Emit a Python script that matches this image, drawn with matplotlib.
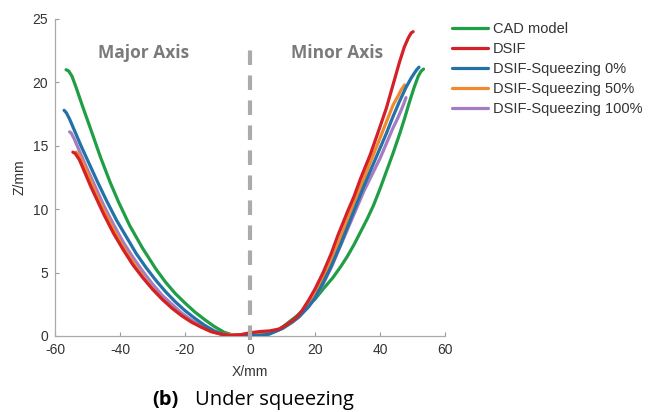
import numpy as np
import matplotlib
matplotlib.use("Agg")
import matplotlib.pyplot as plt

plt.rcParams['font.family'] = ['Liberation Sans', 'DejaVu Sans']
plt.rcParams['axes.unicode_minus'] = False

# Profiles (X/mm, Z/mm)
cad_x = [-56.6, -55.8, -54.8, -53.5, -51.5, -49, -46, -43, -40.5, -37, -33, -29, -26, -23, -20, -17, -14, -11, -8, -5, -2, 0,
         2, 5, 8, 10, 12, 15, 18, 20, 22.5, 25.5, 28, 30, 32, 34, 36, 38, 40, 42, 44, 46, 47.5, 49, 50.5, 51.8, 52.7, 53.4]
cad_z = [21.0, 20.9, 20.5, 19.6, 18.1, 16.3, 14.1, 12.1, 10.6, 8.7, 6.9, 5.3, 4.25, 3.35, 2.6, 1.9, 1.3, 0.75, 0.3, 0.05, 0, 0,
         0, 0.1, 0.4, 0.7, 1.1, 1.7, 2.4, 2.9, 3.7, 4.6, 5.5, 6.3, 7.2, 8.2, 9.2, 10.3, 11.6, 13.0, 14.4, 15.9, 17.1, 18.4, 19.6, 20.5, 20.9, 21.05]

dsif_x = [-54.5, -53.8, -52.5, -51, -49, -47, -45, -42, -39, -36, -33, -30, -27, -24, -21, -18, -15, -12, -9, -6, -3, 0,
          3, 6, 9, 11, 14, 16, 18, 20, 22.5, 25, 27, 30, 32, 34, 37, 40, 42, 44, 46, 47.5, 48.7, 49.6, 50.2]
dsif_z = [14.5, 14.4, 13.9, 13.0, 11.8, 10.7, 9.6, 8.1, 6.8, 5.6, 4.6, 3.7, 2.9, 2.2, 1.6, 1.1, 0.7, 0.35, 0.15, 0.05, 0.1, 0.25,
          0.35, 0.4, 0.55, 0.85, 1.4, 2.0, 2.8, 3.7, 5.0, 6.5, 7.9, 9.8, 11.0, 12.4, 14.3, 16.5, 18.0, 19.8, 21.6, 22.8, 23.5, 23.9, 24.0]

sq0_x = [-57.2, -56.5, -55.5, -54, -52, -49.5, -47, -44, -41, -38, -35, -32, -29, -26, -23, -20, -17, -14, -11, -8, -5, -2, 0,
         3, 6, 10, 13, 15, 18, 20, 22.5, 25, 28, 30, 32.5, 35, 37.5, 40, 42, 44, 46, 48, 49.5, 50.5, 51.3, 52]
sq0_z = [17.8, 17.6, 17.1, 16.2, 15.0, 13.6, 12.2, 10.6, 9.1, 7.8, 6.5, 5.4, 4.4, 3.5, 2.7, 2.0, 1.4, 0.85, 0.4, 0.1, 0, 0, 0.05,
         0.05, 0.15, 0.6, 1.1, 1.5, 2.3, 3.0, 4.2, 5.5, 7.3, 8.6, 10.2, 11.8, 13.3, 14.8, 16.0, 17.3, 18.5, 19.6, 20.3, 20.7, 21.0, 21.2]

sq50_x = [-53.5, -52.5, -51, -49, -47, -45, -42, -39, -36, -33, -30, -27, -24, -21, -18, -15, -12, -9, -6, -3, 0,
          3, 6, 10, 13, 15, 18, 20, 22.5, 25, 27.5, 30, 32.5, 35, 37.5, 40, 42, 44, 45.5, 46.5, 47.6]
sq50_z = [14.5, 14.2, 13.4, 12.2, 11.0, 9.9, 8.4, 7.0, 5.8, 4.7, 3.7, 2.9, 2.2, 1.6, 1.1, 0.7, 0.35, 0.15, 0.1, 0.1, 0.1,
          0.1, 0.25, 0.6, 1.1, 1.5, 2.4, 3.2, 4.5, 5.9, 7.5, 9.2, 10.8, 12.4, 14.0, 15.6, 16.9, 18.2, 18.9, 19.4, 19.8]

sq100_x = [-55.5, -55, -54, -52.5, -50.5, -48, -45, -42, -39, -36, -33, -30, -27, -24, -21, -18, -15, -12, -9, -6, -3, 0,
           3, 6, 10, 13, 15, 18, 20, 22.5, 25, 27.5, 30, 32.5, 35, 37.5, 40, 42, 44, 45.5, 46.5, 47.3, 48]
sq100_z = [16.1, 16.0, 15.5, 14.6, 13.4, 12.0, 10.3, 8.8, 7.4, 6.2, 5.1, 4.1, 3.2, 2.5, 1.8, 1.25, 0.8, 0.4, 0.15, 0.05, 0.1, 0.15,
           0.15, 0.2, 0.6, 1.1, 1.5, 2.3, 3.0, 4.1, 5.4, 6.9, 8.4, 9.9, 11.4, 12.7, 14.0, 15.2, 16.4, 17.2, 17.8, 18.3, 18.8]

labels = ['CAD model', 'DSIF', 'DSIF-Squeezing 0%', 'DSIF-Squeezing 50%', 'DSIF-Squeezing 100%']
colors = ['#1f9e45', '#d42027', '#2272a8', '#f08a2c', '#a57bc4']

x_ticks = [-60, -40, -20, 0, 20, 40, 60]
y_ticks = [0, 5, 10, 15, 20, 25]

fig = plt.figure(figsize=(6.61, 4.12), dpi=100)
ax = fig.add_axes([0.0832, 0.1845, 0.590, 0.7694])

series = [(cad_x, cad_z), (dsif_x, dsif_z), (sq0_x, sq0_z), (sq50_x, sq50_z), (sq100_x, sq100_z)]
# draw back to front so the green sits under the others like in the figure
order = [0, 4, 3, 2, 1]
lines = {}
for i in order:
    x, z = series[i]
    ln, = ax.plot(x, z, color=colors[i], lw=2.3, solid_capstyle='round', label=labels[i], zorder=3)
    lines[i] = ln

# centre divider
ax.plot([0, 0], [-0.3, 23.3], color='#ababab', lw=3, ls=(0, (3.5, 2.5)), zorder=4, clip_on=False)

ax.text(-32.6, 22.3, 'Major Axis', ha='center', va='center', fontsize=12.5,
        fontweight='bold', color='#7a7a7a', family='Open Sans')
ax.text(26.8, 22.3, 'Minor Axis', ha='center', va='center', fontsize=12.5,
        fontweight='bold', color='#7a7a7a', family='Open Sans')

ax.set_xlim(-60, 60)
ax.set_ylim(0, 25)
ax.set_xticks(x_ticks)
ax.set_yticks(y_ticks)
ax.tick_params(direction='in', length=3, width=0.8, colors='#999999', labelcolor='#333333', labelsize=10)
ax.tick_params(axis='x', pad=5)
ax.tick_params(axis='y', pad=5)
for s in ['top', 'right']:
    ax.spines[s].set_visible(False)
for s in ['left', 'bottom']:
    ax.spines[s].set_color('#aaaaaa')
    ax.spines[s].set_linewidth(0.9)

ax.set_xlabel('X/mm', fontsize=10, color='#333333', labelpad=6)
ax.set_ylabel('Z/mm', fontsize=10, color='#333333', labelpad=4)

fig.legend([lines[i] for i in range(5)], labels, loc='upper left',
           bbox_to_anchor=(452 / 661, 1 - 22 / 412), frameon=False, fontsize=10.5,
           handlelength=2.45, handletextpad=0.35, labelspacing=0.42, borderpad=0, borderaxespad=0,
           labelcolor='#333333')

fig.text(152 / 661, 1 - 400 / 412, '(b)', fontsize=14.5, fontweight='bold', va='center', ha='left',
         family='Open Sans')
fig.text(195 / 661, 1 - 400 / 412, 'Under squeezing', fontsize=14.5, va='center', ha='left', family='Open Sans')

fig.savefig('out.png', dpi=100)
